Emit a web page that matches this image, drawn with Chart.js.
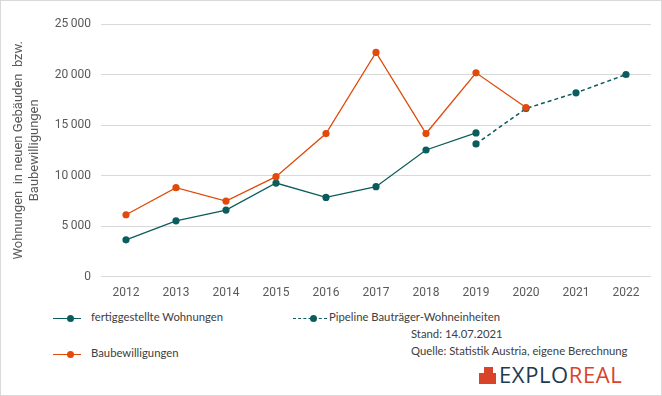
<!DOCTYPE html>
<html lang="de">
<head>
<meta charset="utf-8">
<script src="https://cdn.jsdelivr.net/npm/chart.js@4"></script>
<style>
  html, body { margin: 0; padding: 0; background: #fff; }
  #box { position: relative; width: 660px; height: 394px; border: 1px solid #d9d9d9; overflow: hidden; }
  #wrap { position: absolute; left: 0; top: 0; width: 660px; height: 300px; }
  .leg { position: absolute; font-family: Lato, "Noto Sans", sans-serif; font-size: 11.3px; color: #404040; white-space: nowrap; }
  .sym { position: absolute; height: 0; }
  .sym i { position: absolute; top: -4px; width: 7px; height: 7px; border-radius: 50%; }
  .note { position: absolute; font-family: Lato, "Noto Sans", sans-serif; font-size: 11.3px; color: #404040; white-space: nowrap; }
  #logo { position: absolute; left: 478px; top: 361px; font-family: "Open Sans", sans-serif; font-size: 22px; letter-spacing: 0.6px; line-height: 24px; }
  #logo .ic { position: relative; display: inline-block; width: 17px; height: 17px; margin-right: 3px; vertical-align: -1px; }
  #logo .ic b { position: absolute; background: #d9432a; }
</style>
</head>
<body>
<div id="box">
  <div id="wrap"><canvas id="chartWohnungen"></canvas></div>

  <div class="sym" style="left:52px;top:317px;width:28px;border-top:1.3px solid #0b5c5c"><i style="left:14px;background:#0b5c5c"></i></div>
  <div class="leg" style="left:90px;top:309px">fertiggestellte Wohnungen</div>

  <div class="sym" style="left:292px;top:317px;width:34px;border-top:1.3px dashed #0b5c5c"><i style="left:17px;background:#0b5c5c"></i></div>
  <div class="leg" style="left:328px;top:309px">Pipeline Bauträger-Wohneinheiten</div>

  <div class="sym" style="left:52px;top:353px;width:28px;border-top:1.3px solid #e04a0a"><i style="left:14px;background:#e04a0a"></i></div>
  <div class="leg" style="left:90px;top:345px">Baubewilligungen</div>

  <div class="note" style="left:410px;top:326px">Stand: 14.07.2021</div>
  <div class="note" style="left:410px;top:343px">Quelle: Statistik Austria, eigene Berechnung</div>

  <div id="logo"><span class="ic"><b style="left:0;top:6px;width:17px;height:11px"></b><b style="left:5px;top:0;width:9px;height:17px"></b></span><span style="color:#1e3a4f">EXPLO</span><span style="color:#d9432a">REAL</span></div>
</div>

<script>
// Daten
const jahre = ['2012', '2013', '2014', '2015', '2016', '2017', '2018', '2019', '2020', '2021', '2022'];
const fertiggestellt = [3640, 5520, 6580, 9260, 7840, 8900, 12530, 14220, null, null, null];
const pipeline = [null, null, null, null, null, null, null, 13130, 16640, 18190, 20000];
const baubewilligungen = [6120, 8800, 7470, 9890, 14160, 22190, 14160, 20170, 16730, null, null];

const gruen = '#0b5c5c';
const orange = '#e04a0a';

document.addEventListener('DOMContentLoaded', () => {
    const fmt = v => String(v).replace(/\B(?=(\d{3})+(?!\d))/g, '\u2009');

    new Chart(document.getElementById('chartWohnungen'), {
        type: 'line',
        data: {
            labels: jahre,
            datasets: [
                { label: 'Baubewilligungen', data: baubewilligungen, borderColor: orange, backgroundColor: orange, borderWidth: 1.3, pointRadius: 3.6, pointBorderWidth: 0, order: 0 },
                { label: 'fertiggestellte Wohnungen', data: fertiggestellt, borderColor: gruen, backgroundColor: gruen, borderWidth: 1.3, pointRadius: 3.6, pointBorderWidth: 0, order: 1 },
                { label: 'Pipeline Bauträger-Wohneinheiten', data: pipeline, borderColor: gruen, backgroundColor: gruen, borderWidth: 1.5, borderDash: [4, 3], pointRadius: 3.6, pointBorderWidth: 0, order: 2 }
            ]
        },
        options: {
            responsive: true,
            maintainAspectRatio: false,
            animation: false,
            layout: { padding: { left: 10, right: 10, top: 23, bottom: 0 } },
            plugins: { legend: { display: false }, tooltip: { enabled: false } },
            scales: {
                x: {
                    offset: true,
                    grid: { display: false },
                    border: { display: false },
                    ticks: { color: '#595959', font: { family: 'Roboto', size: 12 }, padding: 1 }
                },
                y: {
                    min: 0,
                    max: 25000,
                    ticks: { stepSize: 5000, color: '#595959', font: { family: 'Roboto', size: 12 }, padding: 10, callback: fmt },
                    grid: { color: '#d9d9d9', drawTicks: false },
                    border: { display: false },
                    title: {
                        display: true,
                        text: ['Wohnungen  in neuen Gebäuden  bzw.', 'Baubewilligungen'],
                        color: '#595959',
                        font: { family: 'Roboto', size: 13 },
                        padding: { top: 0, bottom: 0 }
                    },
                    afterFit: scale => { scale.width = 90; }
                }
            }
        }
    });
});
</script>
</body>
</html>
